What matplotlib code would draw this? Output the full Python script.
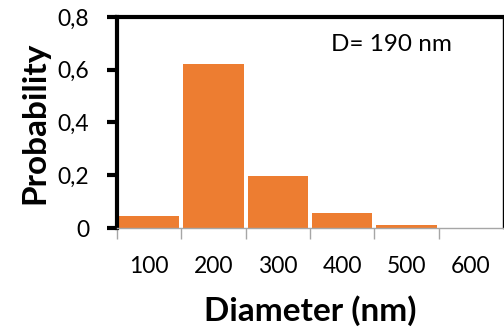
import matplotlib
matplotlib.use("Agg")
import matplotlib.pyplot as plt
import numpy as np
from matplotlib.ticker import FixedLocator, FuncFormatter

categories = ["100", "200", "300", "400", "500", "600"]
probability = [0.045, 0.62, 0.197, 0.057, 0.012, 0.0]
y_ticks = [0, 0.2, 0.4, 0.6, 0.8]
annotation = "D= 190 nm"

plt.rcParams['font.family'] = ['Lato', 'DejaVu Sans']

fig = plt.figure(figsize=(5.04, 3.31), dpi=100)
ax = fig.add_axes([0.232, 0.311, 0.766, 0.638])

x = np.arange(len(categories))
ax.bar(x, probability, width=0.94, color="#ED7D31", zorder=2)

ax.set_xlim(-0.5, len(categories) - 0.5)
ax.set_ylim(0, 0.8)

ax.set_xticks(x)
ax.set_xticklabels(categories, fontsize=16.5)
ax.tick_params(axis='x', which='major', length=0, pad=20)
ax.xaxis.set_minor_locator(FixedLocator(np.arange(len(categories)) - 0.5))
ax.tick_params(axis='x', which='minor', length=8, width=1, color="#A6A6A6", direction='out')

ax.set_yticks(y_ticks)
ax.yaxis.set_major_formatter(FuncFormatter(lambda v, p: "0" if v == 0 else f"{v:.1f}".replace(".", ",")))
ax.tick_params(axis='y', length=7, width=3, color="black", labelsize=16.5, pad=13)

for s in ['left', 'top']:
    ax.spines[s].set_linewidth(3)
    ax.spines[s].set_color('black')
ax.spines['right'].set_linewidth(1)
ax.spines['right'].set_color('black')
ax.spines['bottom'].set_linewidth(1)
ax.spines['bottom'].set_color('#A6A6A6')

ax.set_ylabel("Probability", fontsize=24, fontweight='bold', labelpad=6)
ax.set_xlabel("Diameter (nm)", fontsize=24, fontweight='bold', labelpad=13)

ax.text(0.712, 0.867, annotation, transform=ax.transAxes, fontsize=17.5, ha='center', va='center')

fig.savefig("out.png", dpi=100)
